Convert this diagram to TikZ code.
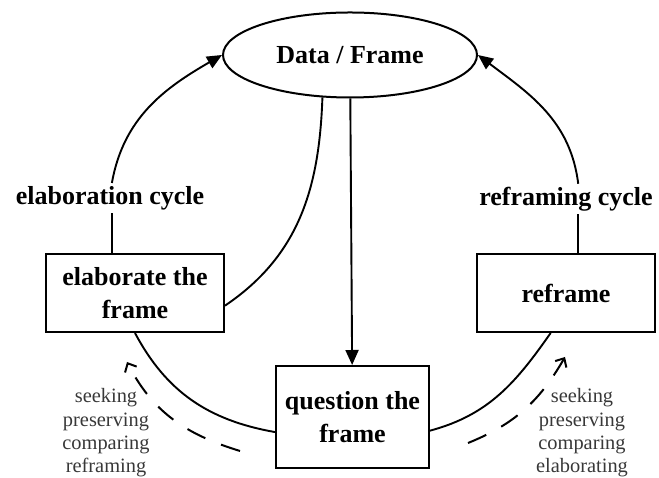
\documentclass[tikz,border=0pt]{standalone}
\usepackage{fontspec}
\setmainfont{Liberation Serif}
\usetikzlibrary{shapes.geometric, arrows.meta}

\begin{document}
\begin{tikzpicture}[x=1pt, y=1pt,
    box/.style={draw, line width=2pt, align=center, inner sep=0pt,
      font=\bfseries\fontsize{26}{33}\selectfont},
    cyclelabel/.style={inner sep=3pt, font=\bfseries\fontsize{26}{33}\selectfont},
    moves/.style={align=center, inner sep=0pt, text=black!78,
      font=\fontsize{20.4}{23.3}\selectfont},
    link/.style={line width=1.9pt},
    arr/.style={link, -{Triangle[length=15pt, width=13pt]}},
    drift/.style={line width=2pt, dash pattern=on 20pt off 17pt,
      -{Straight Barb[length=7pt, width=13pt]}}]
    \useasboundingbox (0,0) rectangle (659,478);

    % frame and the three moves
    \node [box, ellipse, minimum width=254, minimum height=85] (data) at (350,423) {Data / Frame};
    \node [box, minimum width=178, minimum height=78] (elab) at (135,185) {elaborate the\\frame};
    \node [box, minimum width=153, minimum height=102] (quest) at (352.5,61) {question the\\frame};
    \node [box, minimum width=178, minimum height=78] (refr) at (566,185) {reframe};

    \node [cyclelabel] (elabcyc) at (110,280) {elaboration cycle};
    \node [cyclelabel] (refcyc) at (566,279) {reframing cycle};

    \node [moves] (elabmoves) at (106,45) {seeking\\preserving\\comparing\\reframing};
    \node [moves] (refmoves) at (582,45) {seeking\\preserving\\comparing\\elaborating};

    % elaboration cycle
    \draw [link] (elab.120) -- (elab.120 |- elabcyc.south);
    \draw [arr] (elab.120 |- elabcyc.north) to [out=80, in=210] (data.west);
    \draw [link] (data.237) to [out=-92, in=34] (elab.352);

    % reframing cycle
    \draw [link] (refr.73) -- (refr.73 |- refcyc.south);
    \draw [arr] (refr.73 |- refcyc.north) to [out=97, in=-37] (data.east);

    \draw [arr] (data) -- (quest);
    \draw [link] (elab.south) to [out=-62, in=170] (quest.191);
    \draw [link] (quest.350) to [out=15, in=235] (refr.249);

    % dashed drift arrows
    \coordinate (lfrom) at (240,27);
    \coordinate (lto) at (127,116);
    \coordinate (rfrom) at (468,35);
    \coordinate (rto) at (565,121);
    \draw [drift] (lfrom) to [out=163, in=-63] (lto);
    \draw [drift] (rfrom) to [out=22, in=240] (rto);
\end{tikzpicture}
\end{document}
